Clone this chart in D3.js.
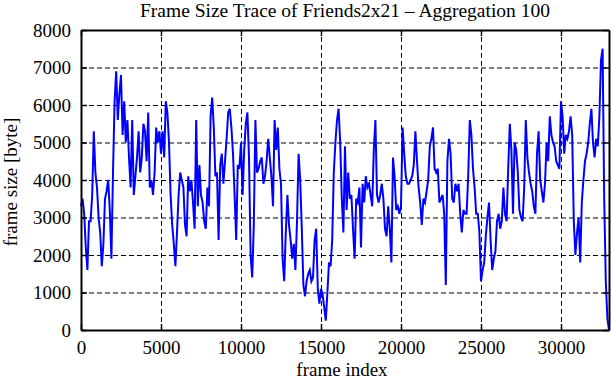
<!DOCTYPE html>
<html>
<head>
<meta charset="utf-8">
<script src="https://cdn.jsdelivr.net/npm/d3@7/dist/d3.min.js"></script>
<style>
body { margin: 0; background: #fff; }
svg { display: block; font-family: "Liberation Serif", "DejaVu Serif", serif; }
</style>
</head>
<body>
<svg id="drawing_region"></svg>
<script>
const title = "Frame Size Trace of Friends2x21 \u2013 Aggregation 100";
const xLabel = "frame index";
const yLabel = "frame size [byte]";

// one value per 100 frames (aggregation 100)
const aggregation = 100;
const frameSizes = [
    3300, 3500, 3100, 2200, 1600, 2900, 2900, 3600, 5300, 4200,
    3800, 3000, 2600, 1700, 2300, 3500, 3700, 4000, 3200, 1900,
    4200, 6100, 6900, 5600, 6300, 6800, 5200, 6100, 5000, 5600,
    4600, 3800, 5600, 3600, 4100, 4600, 5300, 4200, 4600, 5500,
    5300, 4500, 5800, 3800, 4000, 3600, 4200, 5400, 5000, 5300,
    4700, 5300, 4600, 6100, 5800, 5000, 3600, 2800, 2300, 1700,
    2600, 3600, 4200, 4000, 3800, 2800, 2500, 4100, 3700, 4000,
    3400, 2700, 5600, 3300, 4400, 3600, 3400, 2900, 2700, 3800,
    3300, 5700, 6200, 5400, 4100, 4200, 2400, 4400, 4700, 3900,
    4500, 5100, 5800, 5900, 5400, 4700, 3600, 2400, 4400, 4300,
    5000, 3600, 4800, 5500, 5800, 4600, 2000, 1400, 2800, 5600,
    4200, 4300, 4500, 4600, 3900, 4100, 4500, 5100, 4600, 4100,
    3300, 5600, 4800, 5400, 4300, 3900, 1900, 1300, 2600, 3600,
    2800, 2400, 1900, 2300, 1600, 2900, 4700, 4000, 2700, 1200,
    900, 1300, 1500, 1600, 1300, 1400, 2400, 2700, 1100, 700,
    1100, 950, 600, 250, 1000, 1800, 1700, 2400, 4200, 5000,
    5600, 5900, 5000, 3500, 2600, 4900, 3200, 4200, 3500, 3600,
    2700, 1900, 3500, 3400, 3800, 2200, 3900, 3400, 4100, 3800,
    3900, 3600, 3300, 4800, 5600, 3600, 3400, 3600, 3900, 3500,
    2700, 2500, 3300, 2700, 1800, 4600, 4100, 3200, 3300, 3100,
    3300, 5400, 4700, 4100, 3900, 3900, 4000, 4100, 4400, 5300,
    4500, 3800, 3400, 2800, 3500, 3400, 3700, 4000, 4900, 5100,
    5400, 4300, 4200, 4300, 3400, 3500, 3600, 3100, 1200, 4500,
    5100, 4700, 3500, 3400, 3900, 3700, 3900, 3100, 2600, 3200,
    3100, 3100, 4100, 5600, 5200, 4300, 3800, 3100, 3100, 2600,
    1300, 1600, 1800, 2500, 3000, 3400, 2400, 1600, 1900, 2100,
    2900, 3100, 2700, 2900, 3800, 3100, 2900, 4300, 5500, 4800,
    3100, 5000, 4800, 4200, 3200, 3000, 2900, 3800, 5600, 4600,
    4200, 3900, 3700, 3300, 3100, 4700, 5300, 4000, 3700, 3400,
    3900, 5000, 4500, 5700, 5200, 5000, 4900, 4500, 4400, 4300,
    6100, 5700, 4700, 5200, 5100, 5300, 5700, 5200, 2900, 2000,
    2600, 3000, 1800, 3400, 4000, 4500, 4700, 5000, 5500, 5900,
    5000, 4600, 5100, 4900, 5700, 7200, 7500, 3500, 1300, 300,
    0
];

const xTicks = [0, 5000, 10000, 15000, 20000, 25000, 30000];
const yTicks = [0, 1000, 2000, 3000, 4000, 5000, 6000, 7000, 8000];
const xMax = 33000;
const yMax = 8000;

const config = {
    parent: '#drawing_region',
    width: 611,
    height: 380,
    margin: { top: 30, right: 2, bottom: 50, left: 81 },
};

const inner_width = config.width - config.margin.left - config.margin.right;
const inner_height = config.height - config.margin.top - config.margin.bottom;

const svg = d3.select(config.parent)
    .attr('width', config.width)
    .attr('height', config.height);

const chart = svg.append('g')
    .attr('transform', `translate(${config.margin.left}, ${config.margin.top})`);

const xscale = d3.scaleLinear().domain([0, xMax]).range([0, inner_width]);
const yscale = d3.scaleLinear().domain([0, yMax]).range([inner_height, 0]);

// dashed grid
chart.append('g')
    .attr('class', 'grid')
    .attr('transform', `translate(0, ${inner_height})`)
    .call(d3.axisBottom(xscale).tickValues(xTicks.slice(1)).tickSize(-inner_height).tickFormat(''));
chart.append('g')
    .attr('class', 'grid')
    .call(d3.axisLeft(yscale).tickValues(yTicks.slice(1, -1)).tickSize(-inner_width).tickFormat(''));
chart.selectAll('.grid .domain').remove();
chart.selectAll('.grid line')
    .attr('stroke', '#000')
    .attr('stroke-width', 1)
    .attr('stroke-dasharray', '5,3');

// trace
const line = d3.line()
    .x((d, i) => xscale(i * aggregation))
    .y(d => yscale(d));

chart.append('path')
    .datum(frameSizes)
    .attr('fill', 'none')
    .attr('stroke', '#0000ff')
    .attr('stroke-width', 2)
    .attr('stroke-linejoin', 'miter')
    .attr('d', line);

// axes, ticks pointing inward, mirrored on top and right
const tickLen = 6;
const fmt = d3.format('d');
chart.append('g')
    .attr('class', 'axis')
    .attr('transform', `translate(0, ${inner_height})`)
    .call(d3.axisBottom(xscale).tickValues(xTicks).tickSize(-tickLen).tickPadding(11).tickFormat(fmt).tickSizeOuter(0));
chart.append('g')
    .attr('class', 'axis')
    .call(d3.axisTop(xscale).tickValues(xTicks).tickSize(-tickLen).tickFormat('').tickSizeOuter(0));
chart.append('g')
    .attr('class', 'axis')
    .call(d3.axisLeft(yscale).tickValues(yTicks).tickSize(-tickLen).tickPadding(10).tickFormat(fmt).tickSizeOuter(0));
chart.append('g')
    .attr('class', 'axis')
    .attr('transform', `translate(${inner_width}, 0)`)
    .call(d3.axisRight(yscale).tickValues(yTicks).tickSize(-tickLen).tickFormat('').tickSizeOuter(0));

chart.selectAll('.axis .domain').attr('stroke', '#000').attr('stroke-width', 2);
chart.selectAll('.axis .tick line').attr('stroke-width', 1.5);
chart.selectAll('.axis .tick text')
    .attr('font-family', '"Liberation Serif", serif')
    .attr('font-size', '19px')
    .attr('fill', '#000');

// labels
svg.append('text')
    .attr('x', config.margin.left + inner_width / 2)
    .attr('y', 17)
    .attr('text-anchor', 'middle')
    .attr('font-size', '19.5px')
    .text(title);

svg.append('text')
    .attr('x', config.margin.left + inner_width / 2 - 3)
    .attr('y', 376)
    .attr('text-anchor', 'middle')
    .attr('font-size', '19px')
    .text(xLabel);

svg.append('text')
    .attr('transform', `translate(17, ${config.margin.top + inner_height / 2 + 2}) rotate(-90)`)
    .attr('text-anchor', 'middle')
    .attr('font-size', '19px')
    .text(yLabel);
</script>
</body>
</html>
